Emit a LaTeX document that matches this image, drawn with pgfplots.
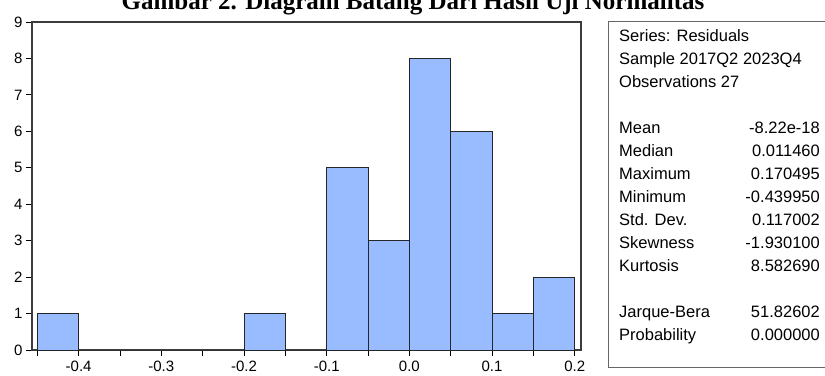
\documentclass[border=0pt]{standalone}
\usepackage{pgfplots}
\pgfplotsset{compat=1.18}
\usepackage{fontspec}
\setmainfont{Liberation Sans}
\newfontfamily\titlefont{Liberation Serif}
\definecolor{barblue}{RGB}{153,187,255}
\definecolor{framegray}{RGB}{60,60,60}
\newcommand{\tlfont}{\fontsize{15bp}{17bp}\selectfont}
\begin{document}
\begin{tikzpicture}[x=1bp,y=1bp]
\useasboundingbox (0,0) rectangle (825,375);
\node[font=\titlefont\bfseries\fontsize{25bp}{30bp}\selectfont, anchor=base, inner sep=0pt] at (413,366) {Gambar 2. Diagram Batang Dari Hasil Uji Normalitas};
\begin{axis}[
  at={(32bp,25bp)}, anchor=south west,
  scale only axis, width=549bp, height=328bp,
  font=\tlfont,
  xmin=-0.4564, xmax=0.2076, ymin=0, ymax=9,
  xtick={-0.4,-0.3,-0.2,-0.1,0,0.1,0.2},
  xticklabels={{\tlfont -0.4},{\tlfont -0.3},{\tlfont -0.2},{\tlfont -0.1},{\tlfont 0.0},{\tlfont 0.1},{\tlfont 0.2}},
  minor xtick={-0.45,-0.35,-0.25,-0.15,-0.05,0.05,0.15},
  ytick={0,1,2,3,4,5,6,7,8,9},
  yticklabels={{\tlfont 0},{\tlfont 1},{\tlfont 2},{\tlfont 3},{\tlfont 4},{\tlfont 5},{\tlfont 6},{\tlfont 7},{\tlfont 8},{\tlfont 9}},
  tick align=outside, xtick pos=left, ytick pos=left,
  major tick length=6bp, minor tick length=6bp,
  tick style={black, line width=0.8bp},
  axis line style={draw=framegray, line width=1.2bp},
  every tick label/.append style={font=\tlfont},
  xticklabel style={yshift=-2bp},
]
\addplot[ybar interval, fill=barblue, draw=black!85, line width=0.8bp] coordinates {
  (-0.45,1) (-0.40,0) (-0.35,0) (-0.30,0) (-0.25,0) (-0.20,1) (-0.15,0)
  (-0.10,5) (-0.05,3) (0.00,8) (0.05,6) (0.10,1) (0.15,2) (0.20,0)
};
\end{axis}
\draw[draw=black!60, line width=1bp] (608,8) rectangle (830,353);
\begin{scope}[every node/.style={font=\fontsize{16.5bp}{20bp}\selectfont, inner sep=0pt}]
\node[anchor=mid west] at (619,375-39) {Series: Residuals};
\node[anchor=mid west] at (619,375-62) {Sample 2017Q2 2023Q4};
\node[anchor=mid west] at (619,375-85) {Observations 27};
\node[anchor=mid west] at (619,375-131) {Mean};
\node[anchor=mid east] at (820,375-131) {-8.22e-18};
\node[anchor=mid west] at (619,375-154) {Median};
\node[anchor=mid east] at (820,375-154) {0.011460};
\node[anchor=mid west] at (619,375-177) {Maximum};
\node[anchor=mid east] at (820,375-177) {0.170495};
\node[anchor=mid west] at (619,375-200) {Minimum};
\node[anchor=mid east] at (820,375-200) {-0.439950};
\node[anchor=mid west] at (619,375-223) {Std. Dev.};
\node[anchor=mid east] at (820,375-223) {0.117002};
\node[anchor=mid west] at (619,375-246) {Skewness};
\node[anchor=mid east] at (820,375-246) {-1.930100};
\node[anchor=mid west] at (619,375-269) {Kurtosis};
\node[anchor=mid east] at (820,375-269) {8.582690};
\node[anchor=mid west] at (619,375-315) {Jarque-Bera};
\node[anchor=mid east] at (820,375-315) {51.82602};
\node[anchor=mid west] at (619,375-338) {Probability};
\node[anchor=mid east] at (820,375-338) {0.000000};
\end{scope}
\end{tikzpicture}
\end{document}
